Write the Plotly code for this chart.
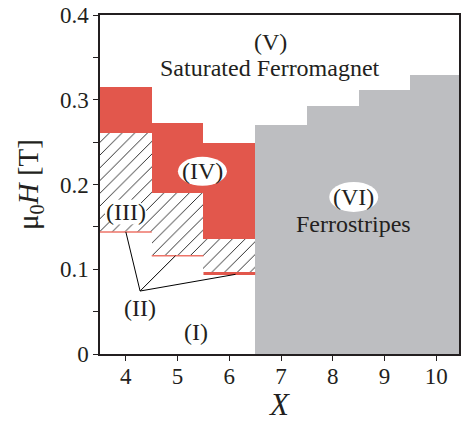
import plotly.graph_objects as go

# Data
red_x = [4, 5, 6]
red_top = [0.315, 0.272, 0.2485]
red_bottom = [0.261, 0.1895, 0.1356]
line_y = [0.144, 0.116, 0.095]          # phase (II) boundaries
gray_x = [7, 8, 9, 10]
gray_top = [0.270, 0.2925, 0.312, 0.329]

x_ticks = [4, 5, 6, 7, 8, 9, 10]
y_ticks = [0, 0.1, 0.2, 0.3, 0.4]
y_tick_text = ["0", "0.1", "0.2", "0.3", "0.4"]

RED = "#E2574C"
GRAY = "#BDBEC1"
FONT = "Liberation Serif"

fig = go.Figure()

# Hatched region (III)
fig.add_trace(go.Bar(
    x=red_x, base=line_y,
    y=[b - l for b, l in zip(red_bottom, line_y)],
    width=1,
    marker=dict(color="white", line=dict(width=0),
                pattern=dict(shape="/", fgcolor="black", bgcolor="white",
                             size=9, solidity=0.09, fillmode="replace")),
    hoverinfo="skip", showlegend=False))

# Red region (IV)
fig.add_trace(go.Bar(
    x=red_x, base=red_bottom,
    y=[t - b for t, b in zip(red_top, red_bottom)],
    width=1, marker=dict(color=RED, line=dict(width=0)),
    showlegend=False))

# Gray region (VI)
fig.add_trace(go.Bar(
    x=gray_x, base=[0] * len(gray_x), y=gray_top,
    width=1, marker=dict(color=GRAY, line=dict(width=0)),
    showlegend=False))

# Phase (II) red lines
for i, (xc, yv) in enumerate(zip(red_x, line_y)):
    fig.add_trace(go.Scatter(
        x=[xc - 0.5, xc + 0.5], y=[yv, yv], mode="lines",
        line=dict(color=RED if i == 2 else "#EE7468", width=3 if i == 2 else 1.6),
        showlegend=False, hoverinfo="skip"))

# Pointer lines to (II)
apex = (4.275, 0.0743)
targets = [(4.0, line_y[0]), (4.96, line_y[1]), (6.12, line_y[2] - 0.001)]
px, py = [], []
for tx, ty in targets:
    px += [apex[0], tx, None]
    py += [apex[1], ty, None]
fig.add_trace(go.Scatter(x=px, y=py, mode="lines",
                         line=dict(color="black", width=1),
                         showlegend=False, hoverinfo="skip"))

# White ellipses behind labels
shapes = []
for (cx, cy, hw, hh) in [(5.48, 0.2156, 24.5, 14.5), (3.995, 0.1676, 21, 13),
                         (8.405, 0.1853, 24.5, 15)]:
    shapes.append(dict(type="circle", xref="x", yref="y",
                       xsizemode="pixel", ysizemode="pixel",
                       xanchor=cx, yanchor=cy,
                       x0=-hw, x1=hw, y0=-hh, y1=hh,
                       fillcolor="white", line=dict(width=0), layer="above"))

ann_font = dict(family=FONT, size=24, color="#231F20")
annotations = []
for (tx, ty, t) in [(6.79, 0.368, "(V)"), (6.78, 0.338, "Saturated Ferromagnet"),
                    (5.48, 0.2156, "(IV)"), (3.995, 0.1676, "(III)"),
                    (4.277, 0.054, "(II)"), (5.354, 0.0254, "(I)"),
                    (8.405, 0.1853, "(VI)"), (8.41, 0.1534, "Ferrostripes")]:
    annotations.append(dict(x=tx, y=ty, xref="x", yref="y", text=t,
                            showarrow=False, font=ann_font,
                            xanchor="center", yanchor="middle"))

fig.update_layout(
    width=461, height=422,
    margin=dict(l=100, r=0, t=15, b=68),
    paper_bgcolor="white", plot_bgcolor="white",
    barmode="overlay", bargap=0,
    showlegend=False,
    shapes=shapes, annotations=annotations,
    font=dict(family=FONT, size=23, color="#231F20"),
    xaxis=dict(range=[3.5, 10.44], tickvals=x_ticks, ticks="outside",
               ticklen=5, tickwidth=1.2, tickcolor="#231F20",
               ticklabelstandoff=-4,
               showline=True, linecolor="#231F20", linewidth=1.5, mirror=True,
               showgrid=False, zeroline=False,
               title=dict(text="<i>X</i>", font=dict(size=31), standoff=9)),
    yaxis=dict(range=[0, 0.4], tickvals=y_ticks, ticktext=y_tick_text,
               ticks="outside", ticklen=5, tickwidth=1.2, tickcolor="#231F20",
               minor=dict(ticks="outside", dtick=0.05, ticklen=5, tickwidth=1.2,
                          tickcolor="#231F20", showgrid=False),
               showline=True, linecolor="#231F20", linewidth=1.5, mirror=True,
               showgrid=False, zeroline=False,
               title=dict(text="μ<sub>0</sub><i>H</i> [T]", font=dict(size=29),
                          standoff=13)),
)

fig.write_html("out.html")
